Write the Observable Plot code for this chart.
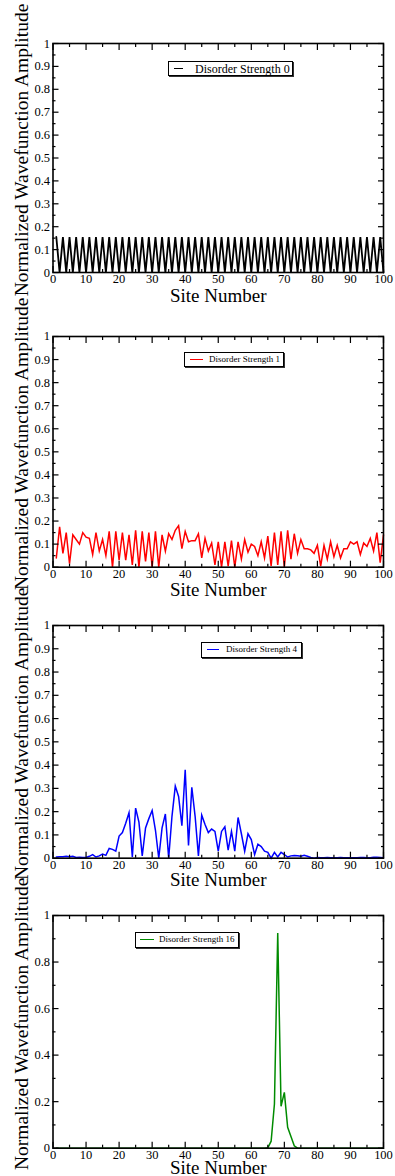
<!DOCTYPE html>
<html><head><meta charset="utf-8">
<script src="https://cdn.jsdelivr.net/npm/d3@7"></script>
<script src="https://cdn.jsdelivr.net/npm/@observablehq/plot@0.6"></script>
<style>
body{margin:0;background:#fff;}
#wrap{position:relative;width:395px;height:1176px;overflow:hidden;font-family:"Liberation Serif",serif;}
.panel{position:absolute;left:0;}
.legend{position:absolute;border:1px solid #000;box-shadow:1px 1px 0 #333;background:#fff;box-sizing:border-box;white-space:nowrap;color:#000;font-family:"Liberation Serif",serif;}
.legend .sw{position:absolute;height:0;border-top:1.6px solid;}
.legend .tx{position:absolute;top:50%;transform:translateY(-52%);line-height:1;}
</style></head>
<body><div id="wrap"></div>
<script>
const sites = [1,2,3,4,5,6,7,8,9,10,11,12,13,14,15,16,17,18,19,20,21,22,23,24,25,26,27,28,29,30,31,32,33,34,35,36,37,38,39,40,41,42,43,44,45,46,47,48,49,50,51,52,53,54,55,56,57,58,59,60,61,62,63,64,65,66,67,68,69,70,71,72,73,74,75,76,77,78,79,80,81,82,83,84,85,86,87,88,89,90,91,92,93,94,95,96,97,98,99,100];

const amp0 = [0.155,0,0.155,0,0.155,0,0.155,0,0.155,0,0.155,0,0.155,0,0.155,0,0.155,0,0.155,0,0.155,0,0.155,0,0.155,0,0.155,0,0.155,0,0.155,0,0.155,0,0.155,0,0.155,0,0.155,0,0.155,0,0.155,0,0.155,0,0.155,0,0.155,0,0.155,0,0.155,0,0.155,0,0.155,0,0.155,0,0.155,0,0.155,0,0.155,0,0.155,0,0.155,0,0.155,0,0.155,0,0.155,0,0.155,0,0.155,0,0.155,0,0.155,0,0.155,0,0.155,0,0.155,0,0.155,0,0.155,0,0.155,0,0.155,0,0.155,0];

const amp1 = [0.04,0.175,0.06,0.15,0.015,0.14,0.12,0.1,0.15,0.13,0.125,0.055,0.15,0.07,0.12,0.05,0.155,0.0,0.155,0.03,0.15,0.03,0.14,0.01,0.16,0.0,0.155,0.025,0.15,0.0,0.155,0.0,0.14,0.07,0.145,0.12,0.16,0.18,0.08,0.155,0.11,0.115,0.115,0.145,0.04,0.125,0.07,0.105,0.01,0.11,0.0,0.11,0.005,0.115,0.0,0.11,0.035,0.12,0.065,0.1,0.09,0.05,0.11,0.04,0.135,0.005,0.15,0.01,0.155,0.0,0.16,0.035,0.145,0.06,0.12,0.08,0.08,0.075,0.06,0.095,0.005,0.095,0.035,0.11,0.045,0.095,0.04,0.08,0.08,0.11,0.1,0.11,0.055,0.105,0.09,0.125,0.07,0.15,0.02,0.14];

const amp4 = [0.005,0.006,0.006,0.008,0.006,0.008,0.003,0.004,0.003,0.003,0.008,0.015,0.005,0.01,0.018,0.012,0.042,0.038,0.03,0.095,0.11,0.15,0.195,0.005,0.215,0.155,0.01,0.13,0.17,0.205,0.12,0.0,0.13,0.19,0.0,0.18,0.31,0.265,0.14,0.38,0.055,0.305,0.18,0.01,0.185,0.145,0.11,0.125,0.115,0.03,0.115,0.135,0.035,0.115,0.03,0.175,0.105,0.03,0.105,0.08,0.015,0.06,0.05,0.03,0.025,0.0,0.025,0.005,0.025,0.015,0.005,0.01,0.012,0.01,0.008,0.012,0.008,0.003,0.0,0.003,0.002,0.002,0.003,0.002,0.002,0.002,0.003,0.002,0.002,0.002,0.002,0.002,0.003,0.003,0.002,0.002,0.004,0.004,0.003,0.002];

const amp16 = [0,0,0,0,0,0,0,0,0,0,0,0,0,0,0,0,0,0,0,0,0,0,0,0,0,0,0,0,0,0,0,0,0,0,0,0,0,0,0,0,0,0,0,0,0,0,0,0,0,0,0,0,0,0,0,0,0,0,0,0,0,0,0,0,0.002,0.03,0.19,0.925,0.18,0.24,0.09,0.05,0.01,0,0,0,0,0,0,0,0,0,0,0,0,0,0,0,0,0,0,0,0,0,0,0,0,0,0,0];

const seriesNames = ["Disorder Strength 0","Disorder Strength 1","Disorder Strength 4","Disorder Strength 16"];
const seriesValues = [amp0, amp1, amp4, amp16];

const xTicks = [0,10,20,30,40,50,60,70,80,90,100];
const xMinor = [5,15,25,35,45,55,65,75,85,95];
const yTicksA = [0,0.1,0.2,0.3,0.4,0.5,0.6,0.7,0.8,0.9,1];
const yMinorA = [0.05,0.15,0.25,0.35,0.45,0.55,0.65,0.75,0.85,0.95];
const yTicksB = [0,0.2,0.4,0.6,0.8,1];
const yMinorB = [0.1,0.3,0.5,0.7,0.9];

const xLabel = "Site Number";
const yLabel = "Normalized Wavefunction Amplitude";

// layout / style (not data)
const colors = ["#000000","#ff0000","#0000ff","#008b00"];
const widths = [1.8, 1.5, 1.5, 1.5];
const frames = [[42.7,271.7],[336,566.7],[625,857.7],[915,1147.7]];
const xLabelOffsets = [29, 28.5, 27.5, 26];
const yTickSets = [[yTicksA,yMinorA],[yTicksA,yMinorA],[yTicksA,yMinorA],[yTicksB,yMinorB]];
const legends = [
  {left:168, top:61, w:125, h:15, l1:5, l2:14, tx:26, fs:12},
  {left:184, top:352, w:100, h:15, l1:5, l2:18, tx:24, fs:9},
  {left:201, top:642, w:101, h:16, l1:5, l2:17, tx:24, fs:9},
  {left:135, top:932, w:104, h:16, l1:4, l2:18, tx:23, fs:9}
];

const wrap = document.getElementById("wrap");
const mt = 10, mb = 42;

seriesValues.forEach((vals, i) => {
  const data = sites.map((s, j) => ({site: s, amp: vals[j]}));
  const [top, bottom] = frames[i];
  const [yMaj, yMin] = yTickSets[i];
  const H = bottom - top + mt + mb;
  const plot = Plot.plot({
    width: 395,
    height: H,
    marginLeft: 52.5,
    marginRight: 12,
    marginTop: mt,
    marginBottom: mb,
    x: {domain: [0, 100]},
    y: {domain: [0, 1]},
    style: {fontFamily: "Liberation Serif, Times New Roman, serif", fontSize: "12.5px", overflow: "visible", background: "none", color: "#000"},
    marks: [
      Plot.line(data, {x: "site", y: "amp", stroke: colors[i], strokeWidth: widths[i], strokeLinejoin: "miter", strokeMiterlimit: 6}),
      // tick labels
      Plot.axisX(xTicks, {tickSize: 0, tickPadding: 2, tickFormat: d => String(d), label: null}),
      Plot.axisY(yMaj, {tickSize: 0, tickPadding: 3, tickFormat: d => String(d), label: null}),
      // inward ticks, all four sides
      Plot.axisX(xTicks, {tickSize: -6, fill: "none", label: null, strokeWidth: 1.2}),
      Plot.axisX(xMinor, {tickSize: -3, fill: "none", label: null, strokeWidth: 1.2}),
      Plot.axisX(xTicks, {anchor: "top", tickSize: -6, fill: "none", label: null, strokeWidth: 1.2}),
      Plot.axisX(xMinor, {anchor: "top", tickSize: -3, fill: "none", label: null, strokeWidth: 1.2}),
      Plot.axisY(yMaj, {tickSize: -6, fill: "none", label: null, strokeWidth: 1.2}),
      Plot.axisY(yMin, {tickSize: -3, fill: "none", label: null, strokeWidth: 1.2}),
      Plot.axisY(yMaj, {anchor: "right", tickSize: -6, fill: "none", label: null, strokeWidth: 1.2}),
      Plot.axisY(yMin, {anchor: "right", tickSize: -3, fill: "none", label: null, strokeWidth: 1.2}),
      // axis titles
      Plot.axisX([], {tickSize: 0, label: xLabel, labelAnchor: "center", labelArrow: "none", labelOffset: xLabelOffsets[i], fontSize: 19}),
      Plot.text([yLabel], {text: d => d, frameAnchor: "left", textAnchor: "middle", rotate: -90, dx: -39, dy: -8, lineAnchor: "top", fontSize: 19.5, fill: "#000"}),
      Plot.frame({stroke: "#000", strokeWidth: 1.6})
    ]
  });
  plot.classList.add("panel");
  plot.style.top = (top - mt) + "px";
  wrap.appendChild(plot);

  const lg = legends[i];
  const box = document.createElement("div");
  box.className = "legend";
  box.style.left = lg.left + "px";
  box.style.top = lg.top + "px";
  box.style.width = lg.w + "px";
  box.style.height = lg.h + "px";
  const sw = document.createElement("div");
  sw.className = "sw";
  sw.style.left = lg.l1 + "px";
  sw.style.width = (lg.l2 - lg.l1) + "px";
  sw.style.top = (lg.h / 2 - 1.8) + "px";
  sw.style.borderTopColor = colors[i];
  const tx = document.createElement("span");
  tx.className = "tx";
  tx.style.left = lg.tx + "px";
  tx.style.fontSize = lg.fs + "px";
  tx.textContent = seriesNames[i];
  box.appendChild(sw);
  box.appendChild(tx);
  wrap.appendChild(box);
});
</script>
</body></html>
